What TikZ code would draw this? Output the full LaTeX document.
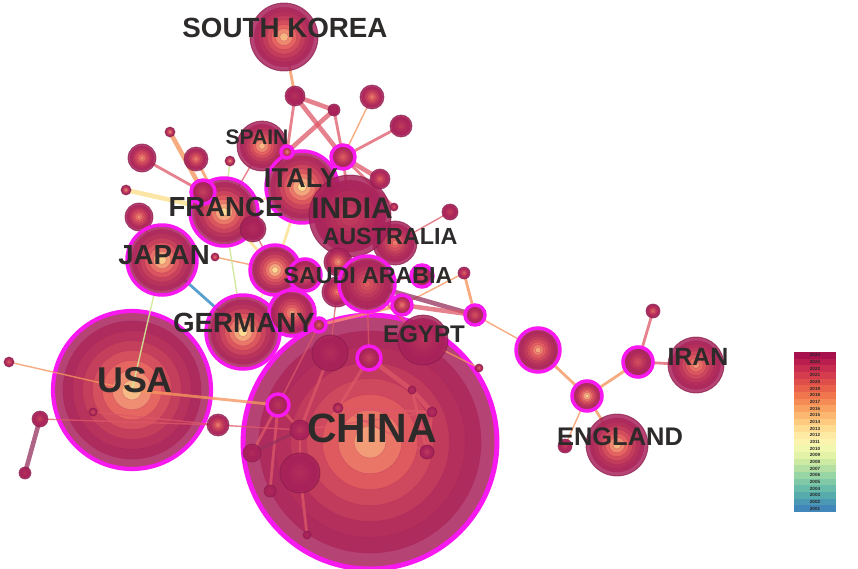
\documentclass[tikz,border=0pt]{standalone}
\usepackage{fontspec}
\setmainfont{Liberation Sans}
\usepackage{xcolor}
\usepackage{tikz}
\usetikzlibrary{backgrounds,calc}

\definecolor{ringdark}{RGB}{168,34,90}
\definecolor{ringmid}{RGB}{232,100,96}
\definecolor{ringlight}{RGB}{255,228,150}
\definecolor{pmag}{RGB}{248,24,240}
\definecolor{linkred}{RGB}{222,88,104}
\definecolor{linkora}{RGB}{244,150,96}
\definecolor{linkyel}{RGB}{250,226,150}
\definecolor{linkgrn}{RGB}{208,232,150}
\definecolor{linkblu}{RGB}{70,150,200}
\definecolor{linkpur}{RGB}{150,48,92}
\definecolor{labgray}{RGB}{45,42,42}

\pgfdeclarelayer{big}
\pgfdeclarelayer{links}
\pgfsetlayers{big,links,main}

% #1 node options, #2 name, #3 x, #4 y, #5 radius, #6 lightness of the core
\newcommand{\yearrings}[6][]{%
  \foreach \k in {0,...,7}{%
    \pgfmathsetmacro{\rr}{#5*(1-\k/8)}%
    \pgfmathtruncatemacro{\tmix}{#6*\k*sqrt(\k)/18.52}%
    \pgfmathtruncatemacro{\ta}{min(100,2*\tmix)}%
    \pgfmathtruncatemacro{\tc}{100-max(0,2*\tmix-100)}%
    \fill[ringmid!\ta!ringdark!\tc!ringlight, fill opacity=0.85] (#3,#4) circle (\rr);
    \draw[ringdark, line width=0.25pt, draw opacity=0.35] (#3,#4) circle (\rr);
  }%
  \node[cnode, minimum size=#5*0.04cm, #1] (#2) at (#3,#4) {};%
}

\begin{document}
\begin{tikzpicture}[x=0.02cm,y=-0.02cm]

\useasboundingbox (0,0) rectangle (858,568);
% \draw[step=50,gray,very thin] (0,0) grid (858,568);

\tikzstyle{cnode}=[circle, inner sep=0pt, draw=ringdark!75!black, line width=0.5pt, draw opacity=0.55]
\tikzstyle{mring}=[draw=pmag, draw opacity=1, line width=2pt]
\tikzstyle{lbl}=[text=labgray, inner sep=0pt]
\tikzstyle{lred}=[draw=linkred, draw opacity=0.75]
\tikzstyle{lora}=[draw=linkora, draw opacity=0.8]
\tikzstyle{lyel}=[draw=linkyel, draw opacity=0.85]
\tikzstyle{lgrn}=[draw=linkgrn, draw opacity=0.9]
\tikzstyle{lblu}=[draw=linkblu, draw opacity=0.9]
\tikzstyle{lpur}=[draw=linkpur, draw opacity=0.75]
\tikzstyle{lw1}=[line width=0.8pt]
\tikzstyle{lw2}=[line width=1.6pt]
\tikzstyle{lw3}=[line width=2.6pt]

\begin{pgfonlayer}{big}
\yearrings[mring, line width=2.8pt]{china}{370}{442}{127}{75}
\yearrings[mring, line width=2.4pt]{usa}{132}{390}{79}{88}
\end{pgfonlayer}

% countries
\yearrings{skorea}{284}{37}{34}{85}
\yearrings{k1}{295}{96}{10}{15}
\yearrings{k2}{334}{110}{6}{10}
\yearrings{k3}{372}{97}{12}{70}
\yearrings{k4}{401}{126}{11}{25}
\yearrings{spain}{262}{146}{25}{85}
\yearrings{f3}{142}{158}{14}{75}
\yearrings{f4}{196}{159}{12}{70}
\yearrings{y1}{170}{132}{5}{100}
\yearrings{y2}{230}{161}{5}{100}
\yearrings{y3}{126}{190}{5}{100}
\yearrings{f5}{139}{217}{14}{75}
\yearrings[mring]{italy}{302}{187}{36}{100}
\yearrings[mring]{s1}{287}{152}{6}{90}
\yearrings[mring]{k5}{343}{157}{12}{55}
\yearrings{aus}{395}{243}{22}{60}
\yearrings{india}{350}{216}{41}{25}
\yearrings{i1}{380}{179}{10}{55}
\yearrings{i2}{394}{207}{4}{70}
\yearrings{a1}{450}{212}{8}{30}
\yearrings[mring]{france}{224}{212}{34}{100}
\yearrings[mring]{f1}{203}{192}{12}{30}
\yearrings{f2}{253}{229}{13}{10}
\yearrings[mring]{japan}{162}{260}{35}{95}
\yearrings{j1}{215}{257}{4}{90}
\yearrings[mring]{g1}{275}{270}{25}{100}
\yearrings{sa2}{338}{262}{14}{80}
\yearrings{sa3}{337}{292}{15}{65}
\yearrings[mring]{sa1}{305}{275}{16}{50}
\yearrings[mring]{saudi}{367}{284}{28}{45}
\yearrings[mring]{e1}{422}{276}{11}{40}
\yearrings{e2}{464}{273}{6}{70}
\yearrings[mring]{e3}{402}{305}{10}{70}
\yearrings[mring]{e4}{475}{315}{10}{45}
\yearrings[mring]{germany}{243}{332}{37}{100}
\yearrings[mring]{g2}{292}{313}{23}{75}
\yearrings[mring]{g3}{319}{325}{7}{60}
\yearrings{egypt}{423}{340}{25}{15}
\yearrings{c2}{330}{353}{18}{10}
\yearrings[mring]{c1}{369}{358}{12}{30}
\yearrings[mring]{c3}{278}{405}{11}{20}
\yearrings{c4}{300}{430}{10}{20}
\yearrings{c5}{252}{453}{9}{10}
\yearrings{c6}{300}{473}{20}{10}
\yearrings{c7}{270}{491}{6}{10}
\yearrings{c8}{307}{535}{4}{10}
\yearrings{c9}{338}{408}{5}{40}
\yearrings{c10}{412}{390}{4}{20}
\yearrings{c11}{432}{412}{5}{20}
\yearrings{c12}{427}{452}{7}{30}
\yearrings{u1}{9}{362}{5}{70}
\yearrings{u2}{40}{419}{8}{30}
\yearrings{u3}{25}{473}{6}{20}
\yearrings{u4}{218}{425}{11}{70}
\yearrings{u5}{93}{412}{4}{60}
\yearrings[mring]{r1}{538}{350}{22}{80}
\yearrings[mring]{r2}{587}{396}{15}{100}
\yearrings[mring]{r3}{638}{362}{15}{40}
\yearrings{r4}{653}{311}{7}{70}
\yearrings{iran}{696}{365}{28}{70}
\yearrings{england}{617}{445}{31}{85}
\yearrings{r5}{565}{446}{7}{30}
\yearrings{r6}{479}{368}{4}{80}

% links
\begin{pgfonlayer}{links}
\draw[lora,lw2] (skorea.center) -- (k1.center);
\draw[lred,lw3] (k1.center) -- (k2.center);
\draw[lred,lw3] (k1.center) -- (k5.center);
\draw[lred,lw2] (k1.center) -- (s1.center);
\draw[lred,lw3] (k2.center) -- (s1.center);
\draw[lred,lw2] (k2.center) -- (k5.center);
\draw[lora,lw1] (k3.center) -- (k5.center);
\draw[lred,lw2] (k4.center) -- (k5.center);
\draw[lred,lw3] (k5.center) -- (i1.center);
\draw[lred,lw2] (k5.center) -- (india.center);
\draw[lred,lw2] (k5.center) -- (i2.center);
\draw[lora,lw1] (s1.center) -- (italy.center);
\draw[lyel,lw1] (spain.center) -- (italy.center);
\draw[lred,lw2] (italy.center) -- (india.center);
\draw[lred,lw1] (aus.center) -- (a1.center);
\draw[lred,lw2] (f3.center) -- (f1.center);
\draw[lora,lw3] (y1.center) -- (f1.center);
\draw[lora,lw2] (f4.center) -- (france.center);
\draw[lgrn,lw1] (y2.center) -- (france.center);
\draw[lred,lw1] (spain.center) -- (france.center);
\draw[lyel,lw3] (y3.center) -- (france.center);
\draw[lred,lw1] (f5.center) -- (japan.center);
\draw[lyel,lw1] (france.center) -- (italy.center);
\draw[lyel,lw2] (france.center) -- (g1.center);
\draw[lred,lw1] (f2.center) -- (g1.center);
\draw[lyel,lw2] (italy.center) -- (g1.center);
\draw[lyel,lw1] (italy.center) -- (sa2.center);
\draw[lora,lw1] (j1.center) -- (g1.center);
\draw[lblu,lw2] (japan.center) -- (germany.center);
\draw[lgrn,lw1] (france.center) -- (germany.center);
\draw[lgrn,lw1] (japan.center) -- (usa.center);
\draw[lyel,lw1] (g1.center) -- (germany.center);
\draw[lred,lw1] (saudi.center) -- (e1.center);
\draw[lora,lw2] (e2.center) -- (e4.center);
\draw[lora,lw1] (e2.center) -- (e3.center);
\draw[lpur,lw3] (saudi.center) -- (e4.center);
\draw[lred,lw3] (e3.center) -- (e4.center);
\draw[lora,lw2] (e3.center) -- (g3.center);
\draw[lred,lw2] (saudi.center) -- (egypt.center);
\draw[lred,lw1] (saudi.center) -- (c1.center);
\draw[lred,lw1] (sa3.center) -- (c2.center);
\draw[lred,lw1] (g3.center) -- (c3.center);
\draw[lora,lw1] (egypt.center) -- (r6.center);
\draw[lora,lw1] (e4.center) -- (r1.center);
\draw[lora,lw2] (r1.center) -- (r2.center);
\draw[lora,lw2] (r2.center) -- (r3.center);
\draw[lred,lw2] (r3.center) -- (r4.center);
\draw[lred,lw2] (r3.center) -- (iran.center);
\draw[lora,lw2] (r2.center) -- (england.center);
\draw[lora,lw1] (r2.center) -- (r5.center);
\draw[lred,lw2] (c1.center) -- (c9.center);
\draw[lred,lw3] (c1.center) -- (c10.center);
\draw[lred,lw3] (c10.center) -- (c11.center);
\draw[lred,lw2] (c10.center) -- (c12.center);
\draw[lred,lw2] (c9.center) -- (c11.center);
\draw[lred,lw2] (c11.center) -- (c12.center);
\draw[lred,lw1] (c9.center) -- (c12.center);
\draw[lred,lw2] (c2.center) -- (c4.center);
\draw[lred,lw2] (c3.center) -- (c4.center);
\draw[lred,lw2] (c3.center) -- (c5.center);
\draw[lred,lw2] (c3.center) -- (c7.center);
\draw[lpur,lw2] (c5.center) -- (c4.center);
\draw[lred,lw2] (c4.center) -- (c6.center);
\draw[lred,lw2] (c6.center) -- (c8.center);
\draw[lred,lw1] (c4.center) -- (c11.center);
\draw[lora,lw2] (usa.center) -- (c3.center);
\draw[lred,lw1] (u5.center) -- (u4.center);
\draw[lred,lw1] (u4.center) -- (c4.center);
\draw[lpur,lw3] (u2.center) -- (u3.center);
\draw[lred,lw1] (u2.center) -- (u4.center);
\draw[lora,lw1] (u1.center) -- (usa.center);
\end{pgfonlayer}

% labels
\node[lbl, font=\fontsize{15.8}{18}\selectfont\bfseries] (sktext) at (285,28) {SOUTH KOREA};
\node[lbl, font=\fontsize{12}{14}\selectfont\bfseries] (sptext) at (257,137) {SPAIN};
\node[lbl, font=\fontsize{15.5}{18}\selectfont\bfseries] (ittext) at (301,178) {ITALY};
\node[lbl, font=\fontsize{15.7}{18}\selectfont\bfseries] (frtext) at (226,207) {FRANCE};
\node[lbl, font=\fontsize{17}{20}\selectfont\bfseries] (intext) at (352,208) {INDIA};
\node[lbl, font=\fontsize{13.3}{16}\selectfont\bfseries] (autext) at (390,236) {AUSTRALIA};
\node[lbl, font=\fontsize{15.7}{18}\selectfont\bfseries] (jptext) at (164,255) {JAPAN};
\node[lbl, font=\fontsize{13.2}{16}\selectfont\bfseries] (satext) at (368,276) {SAUDI ARABIA};
\node[lbl, font=\fontsize{15.8}{18}\selectfont\bfseries] (detext) at (244,323) {GERMANY};
\node[lbl, font=\fontsize{13.7}{16}\selectfont\bfseries] (egtext) at (424,334) {EGYPT};
\node[lbl, font=\fontsize{20.4}{24}\selectfont\bfseries] (ustext) at (135,380) {USA};
\node[lbl, font=\fontsize{23.3}{27}\selectfont\bfseries] (cntext) at (372,428) {CHINA};
\node[lbl, font=\fontsize{14.5}{17}\selectfont\bfseries] (entext) at (620,437) {ENGLAND};
\node[lbl, font=\fontsize{14.2}{17}\selectfont\bfseries] (irtext) at (698,357) {IRAN};

% year legend
\foreach \yr/\hx [count=\i from 0] in {2024/A8124C,2023/B91E4E,2022/C82C4F,2021/D53C4E,2020/DF4E4B,2019/E9614A,2018/F1764D,2017/F68C55,2016/FAA262,2015/FCB770,2014/FDCA80,2013/FEDC92,2012/FEEAA3,2011/FBF4AE,2010/F1F7AE,2009/E2F2A6,2008/CCEAA2,2007/B3E0A2,2006/98D5A4,2005/7FC9A7,2004/68BCA9,2003/56ABAD,2002/4A98B3,2001/4287B9}{
  \definecolor{yrcol}{HTML}{\hx}
  \fill[yrcol] ({794},{352+\i*6.667}) rectangle ({836},{352+(\i+1)*6.667});
  \node[inner sep=0pt, text=black!85, font=\fontsize{2.6}{3}\selectfont\bfseries] (yr\yr) at ({815},{355.3+\i*6.667}) {\yr};
}

\end{tikzpicture}
\end{document}
